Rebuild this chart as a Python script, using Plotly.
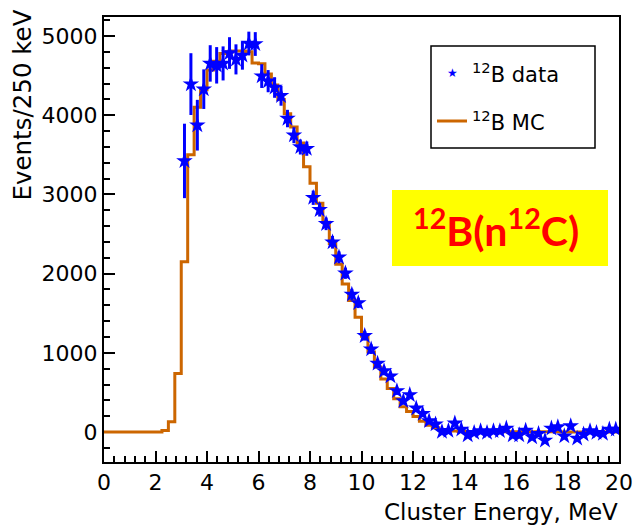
import numpy as np
import plotly.graph_objects as go

# ---------------- data ----------------
bin_width = 0.25
mc_counts = [
    0, 0, 0, 0, 0, 0, 0, 0, 0,            # 0.00 - 2.25
    20, 130, 740, 2150, 3500, 4100, 4320,  # 2.25 - 4.00
    4570, 4680, 4780, 4800, 4810, 4810, 4800, 4660,  # 4.00 - 6.00
    4650, 4520, 4380, 4200, 4020, 3850, 3650, 3350,  # 6.00 - 8.00
    3140, 2890, 2650, 2380, 2120, 1870, 1660, 1450,  # 8.00 - 10.00
    1210, 1010, 820, 670, 550, 420, 320, 260,        # 10.00 - 12.00
    195, 135, 85, 55, 30, 18, 12, 8,                 # 12.00 - 14.00
    8, 7, 7, 6, 6, 5, 5, 5,                          # 14.00 - 16.00
    4, 4, 4, 3, 3, 3, 3, 2,                          # 16.00 - 18.00
    2, 2, 2, 2, 2, 1, 1, 1,                          # 18.00 - 20.00
]
data_counts = [
    3423, 4393, 3874, 4329, 4654, 4630, 4654, 4785,
    4705, 4755, 4905, 4899, 4494, 4430, 4350, 4245,
    3958, 3747, 3599, 3578, 2958, 2806, 2629, 2396,
    2206, 2004, 1738, 1630, 1215, 1046, 865, 772,
    705, 519, 392, 470, 300, 232, 140, 100,
    4, 18, 112, 34, -38, -9, 13, -9,
    13, 13, 47, -38, -38, 21, -63, -21,
    -105, 47, 63, -51, 76, -80, -29, 13,
    -9, -21, 34, 34,
]
data_errors = [
    470, 390, 320, 250, 230, 230, 215, 200,
    190, 180, 150, 150, 150, 140, 130, 125,
    110, 100, 95, 90, 90, 85, 80, 80,
    75, 70, 70, 65, 60, 60, 55, 55,
    50, 50, 45, 45, 45, 40, 40, 40,
    40, 40, 40, 40, 40, 40, 40, 40,
    40, 40, 40, 40, 40, 40, 40, 40,
    40, 40, 40, 40, 40, 40, 40, 40,
    40, 40, 40, 40,
]
data_first_center = 3.125
x_tick_labels = ["0", "2", "4", "6", "8", "10", "12", "14", "16", "18", "20"]
y_tick_labels = ["0", "1000", "2000", "3000", "4000", "5000"]

# ---------------- derived ----------------
edges = np.arange(len(mc_counts) + 1) * bin_width
mc_x = edges
mc_y = np.append(mc_counts, mc_counts[-1])
centers = data_first_center + bin_width * np.arange(len(data_counts))

# ---------------- layout geometry (pixels) ----------------
W, H = 636, 526
L, R, T, B = 104, 619, 17, 462
PW, PH = R - L, B - T


def px(x):
    return (x - L) / PW


def py(y):
    return (B - y) / PH


FONT = "DejaVu Sans"
MC_COLOR = "#cc6600"
DATA_COLOR = "#0000ff"

fig = go.Figure()
fig.add_trace(go.Scatter(
    x=mc_x, y=mc_y, mode="lines", name="12B MC",
    line=dict(color=MC_COLOR, width=3, shape="hv"),
    showlegend=False, hoverinfo="skip",
))
fig.add_trace(go.Scatter(
    x=centers, y=data_counts, mode="markers", name="12B data",
    marker=dict(symbol="star", size=12.5, color=DATA_COLOR, line=dict(width=0)),
    error_y=dict(type="data", array=data_errors, color=DATA_COLOR, thickness=3, width=0),
    showlegend=False,
))

axis_common = dict(
    showgrid=False, zeroline=False, showline=True, linecolor="black", linewidth=2,
    mirror=True, ticks="inside", tickcolor="black", tickwidth=1.5, ticklen=11,
    tickfont=dict(family=FONT, size=22, color="black"),
    automargin=False, layer="below traces",
)
fig.update_xaxes(
    range=[0, 20], tickmode="array",
    tickvals=[float(v) for v in x_tick_labels], ticktext=x_tick_labels,
    minor=dict(ticks="inside", dtick=0.4, ticklen=6, tickcolor="black", tickwidth=1.5),
    **axis_common,
)
fig.update_yaxes(
    range=[-378, 5240], tickmode="array",
    tickvals=[float(v) for v in y_tick_labels], ticktext=y_tick_labels,
    minor=dict(ticks="inside", dtick=200, ticklen=6, tickcolor="black", tickwidth=1.5),
    **axis_common,
)

shapes = [
    # yellow label box
    dict(type="rect", xref="paper", yref="paper", x0=px(392), x1=px(608), y0=py(266), y1=py(190),
         fillcolor="#ffff00", line=dict(width=0), layer="above"),
    # legend box
    dict(type="rect", xref="paper", yref="paper", x0=px(431), x1=px(595), y0=py(148), y1=py(46),
         fillcolor="white", line=dict(color="black", width=1.5), layer="above"),
    # legend line sample
    dict(type="line", xref="paper", yref="paper", x0=px(437), x1=px(467), y0=py(121), y1=py(121),
         line=dict(color=MC_COLOR, width=3), layer="above"),
]

annotations = [
    dict(text="<sup>12</sup>B(n<sup>12</sup>C)", xref="paper", yref="paper",
         x=px(496), y=py(228), xanchor="center", yanchor="middle", showarrow=False,
         font=dict(family="Lato", size=41, color="#ff0000", weight="bold")),
    dict(text="★", xref="paper", yref="paper", x=px(452), y=py(73),
         xanchor="center", yanchor="middle", showarrow=False,
         font=dict(family=FONT, size=12, color=DATA_COLOR)),
    dict(text="<sup>12</sup>B data", xref="paper", yref="paper", x=px(470), y=py(73),
         xanchor="left", yanchor="middle", showarrow=False,
         font=dict(family=FONT, size=21, color="black")),
    dict(text="<sup>12</sup>B MC", xref="paper", yref="paper", x=px(470), y=py(121),
         xanchor="left", yanchor="middle", showarrow=False,
         font=dict(family=FONT, size=21, color="black")),
    # axis titles
    dict(text="Cluster Energy, MeV", xref="paper", yref="paper", x=px(620), y=py(512),
         xanchor="right", yanchor="middle", showarrow=False,
         font=dict(family=FONT, size=23, color="black")),
    dict(text="Events/250 keV", xref="paper", yref="paper", x=px(22), y=py(8),
         xanchor="center", yanchor="top", textangle=-90, showarrow=False,
         font=dict(family=FONT, size=24.5, color="black")),
]

fig.update_layout(
    width=W, height=H,
    margin=dict(l=L, r=W - R, t=T, b=H - B),
    paper_bgcolor="white", plot_bgcolor="white",
    shapes=shapes, annotations=annotations,
    showlegend=False,
)

fig.write_html(
    "out.html",
    config={"displayModeBar": False},
    post_script="document.body.style.margin='0';document.body.style.padding='0';",
)
